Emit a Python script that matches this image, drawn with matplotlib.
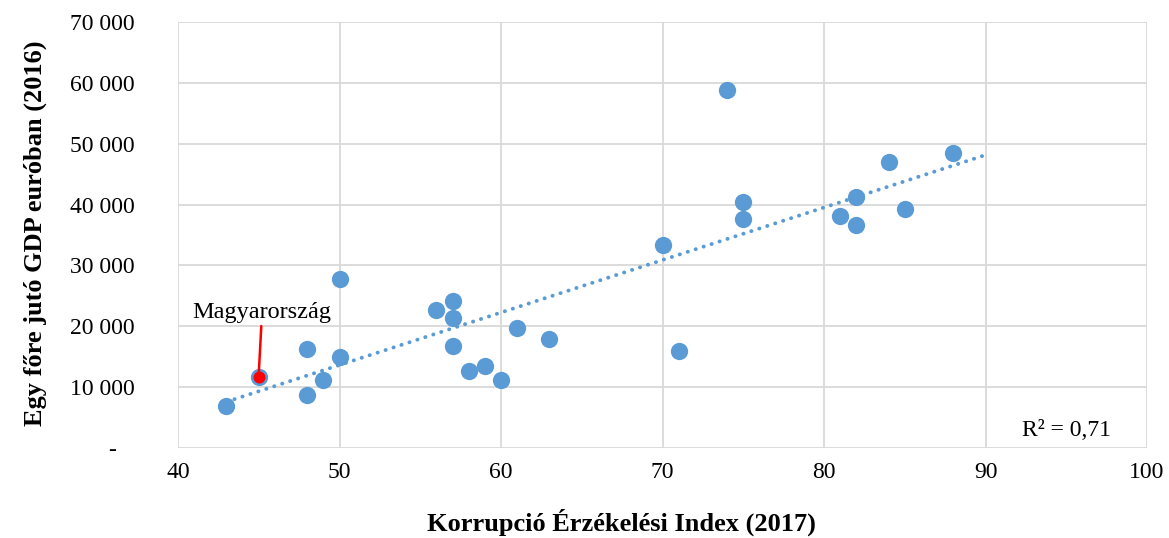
import numpy as np
import matplotlib.pyplot as plt
from matplotlib.ticker import FuncFormatter

plt.rcParams['font.family'] = ['Liberation Serif', 'DejaVu Serif']

# Korrupció Érzékelési Index (2017) és egy főre jutó GDP (2016)
cpi = [43, 48, 48, 49, 50, 50, 56, 57, 57, 57, 58, 59, 60, 61, 63,
       70, 71, 74, 75, 75, 81, 82, 82, 84, 85, 88]
gdp = [6900, 16300, 8700, 11100, 27800, 15000, 22700, 24200, 21300, 16700,
       12700, 13500, 11100, 19700, 17900, 33400, 16000, 58800, 40500, 37600,
       38200, 41300, 36600, 47000, 39300, 48400]
hu_cpi = 45
hu_gdp = 11700

x_all = np.array(cpi + [hu_cpi])
y_all = np.array(gdp + [hu_gdp])

blue = '#5B9BD5'

fig = plt.figure(figsize=(11.69, 5.38), dpi=100)
ax = fig.add_axes([0.1523, 0.1673, 0.9812 - 0.1523, 0.959 - 0.1673])

ax.scatter(cpi, gdp, s=155, color=blue, zorder=3, linewidths=0)
ax.scatter([hu_cpi], [hu_gdp], s=155, color=blue, zorder=3, linewidths=0)
ax.scatter([hu_cpi], [hu_gdp], s=75, color='#FF0000', zorder=4, linewidths=0)

# lineáris trendvonal
k, b = np.polyfit(x_all, y_all, 1)
xt = np.array([43, 90])
ax.plot(xt, k * xt + b, linestyle=(0, (0.05, 2.1)), color=blue, linewidth=2.8,
        dash_capstyle='round', solid_capstyle='round', zorder=2)

ax.annotate('Magyarország', xy=(hu_cpi, hu_gdp + 600), xytext=(45.2, 20500),
            ha='center', va='bottom', fontsize=17.5,
            arrowprops=dict(arrowstyle='-', color='#FF0000', lw=1.8,
                            shrinkA=0, shrinkB=0))

ax.text(95, 2800, 'R² = 0,71', ha='center', va='center', fontsize=17)

ax.set_xlim(40, 100)
ax.set_ylim(0, 70000)
ax.set_xticks(range(40, 101, 10))
ax.set_yticks(range(0, 70001, 10000))


def fmt(v, pos):
    if v == 0:
        return '-   '
    return f'{int(v):,}'.replace(',', ' ')


ax.yaxis.set_major_formatter(FuncFormatter(fmt))
ax.grid(True, color='#D9D9D9', linewidth=1.3, zorder=0)
ax.set_axisbelow(True)
for s in ax.spines.values():
    s.set_visible(False)
ax.tick_params(length=0, labelsize=17)
ax.tick_params(axis='x', pad=10)
ax.tick_params(axis='y', pad=31)

ax.set_xlabel('Korrupció Érzékelési Index (2017)', fontsize=19, fontweight='bold')
ax.set_ylabel('Egy főre jutó GDP euróban (2016)', fontsize=19, fontweight='bold')
ax.xaxis.label.set_va('center')
ax.xaxis.set_label_coords(0.458, -0.174)
ax.yaxis.label.set_va('center')
ax.yaxis.set_label_coords(-0.1476, 0.505)

fig.savefig('out.png', dpi=100)
